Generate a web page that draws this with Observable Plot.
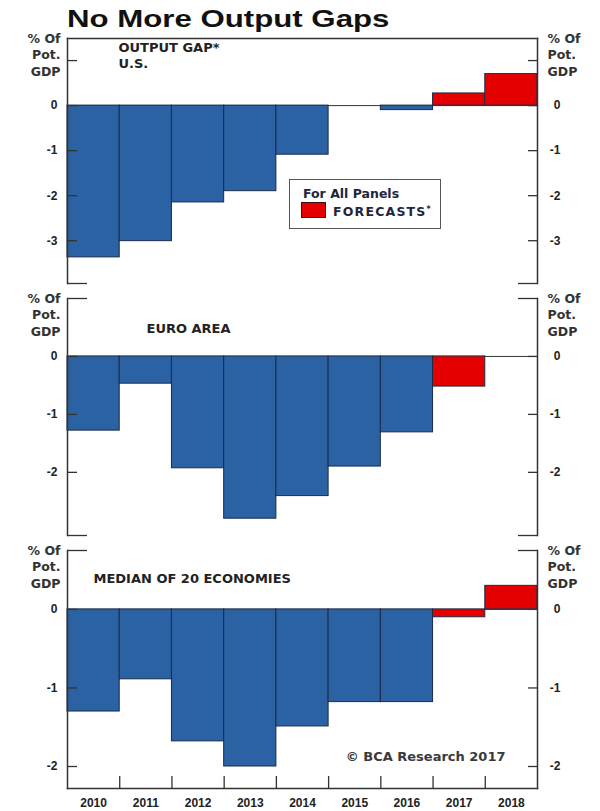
<!DOCTYPE html>
<html>
<head>
<meta charset="utf-8">
<script src="https://cdn.jsdelivr.net/npm/d3@7"></script>
<script src="https://cdn.jsdelivr.net/npm/@observablehq/plot@0.6"></script>
<style>
html, body { margin: 0; padding: 0; background: #fff; }
#chart { position: relative; width: 600px; height: 811px; overflow: hidden; background: #fff; }
#title { position: absolute; left: 67px; top: 7px; font: bold 24px/24px "Liberation Sans", Arial, sans-serif; color: #111; transform: scaleX(1.3); transform-origin: 0 0; white-space: nowrap; z-index: 3; }
.panel { position: absolute; left: 0; }
#legend { position: absolute; left: 289px; top: 179px; width: 152px; height: 50px; box-sizing: border-box; border: 1px solid #555; background: #fff; z-index: 3; font: bold 12.5px/15px "DejaVu Sans", sans-serif; color: #1e2540; }
#legend .hdr { position: absolute; left: 13px; top: 6px; white-space: nowrap; }
#legend .sw { position: absolute; left: 11px; top: 22px; width: 25px; height: 16px; box-sizing: border-box; background: #e50000; border: 1px solid #3a1010; }
#legend .lbl { position: absolute; left: 43px; top: 22px; white-space: nowrap; letter-spacing: 1.2px; }
#legend .lbl span { font-size: 8px; vertical-align: 4px; letter-spacing: 0; }
</style>
</head>
<body>
<div id="chart">
  <div id="title"></div>
  <div id="legend"><div class="hdr"></div><div class="sw"></div><div class="lbl"></div></div>
</div>
<script>
// ---- data ----
const titleText = "No More Output Gaps";
const years = ["2010", "2011", "2012", "2013", "2014", "2015", "2016", "2017", "2018"];
const forecastYears = ["2017", "2018"];
const usValues = [-3.37, -3.01, -2.15, -1.9, -1.09, 0, -0.1, 0.27, 0.7];
const euroValues = [-1.28, -0.47, -1.93, -2.8, -2.41, -1.9, -1.31, -0.52, 0];
const medianValues = [-1.3, -0.89, -1.68, -2.0, -1.49, -1.18, -1.18, -0.1, 0.3];
const usTicks = [0, -1, -2, -3];
const euroTicks = [0, -1, -2];
const medianTicks = [0, -1, -2];
const panelLabels = ["OUTPUT GAP*\nU.S.", "EURO AREA", "MEDIAN OF 20 ECONOMIES"];
const unitLabel = "% Of\nPot.\nGDP";
const legendHeader = "For All Panels";
const legendLabel = "FORECASTS";
const copyrightText = "© BCA Research 2017";

// ---- styling ----
const BLUE = "#2b62a3", RED = "#e50000", OUTLINE = "#1c2b47", INK = "#333";
const M_LEFT = 67, M_RIGHT = 63, W = 600;
const bandW = (W - M_LEFT - M_RIGHT) / years.length;

document.getElementById("title").textContent = titleText;
document.querySelector("#legend .hdr").textContent = legendHeader;
document.querySelector("#legend .lbl").innerHTML = legendLabel + "<span>*</span>";

function makePanel(cfg) {
  const rows = years.map((year, i) => ({year, value: cfg.values[i], forecast: forecastYears.includes(year)}));
  const tickStyle = {stroke: INK, strokeWidth: 1.3, fill: "none", label: null};
  const labelStyle = {tickSize: 0, tickFormat: d => String(d), fill: "#222", fontSize: 12, fontWeight: "bold", label: null};
  const unitStyle = {lineAnchor: "top", lineHeight: 1.3, dy: -7, fontFamily: "DejaVu Sans", fontWeight: "bold", fontSize: 12.5, fill: "#333"};
  const marks = [
    Plot.ruleY([0], {stroke: INK, strokeWidth: 1}),
    Plot.barY(rows.filter(d => !d.forecast), {x: "year", y: "value", fill: BLUE, stroke: OUTLINE, strokeWidth: 1}),
    Plot.barY(rows.filter(d => d.forecast), {x: "year", y: "value", fill: RED, stroke: OUTLINE, strokeWidth: 1}),
    Plot.frame({anchor: "left", stroke: INK, strokeWidth: 1.5}),
    Plot.frame({anchor: "right", stroke: INK, strokeWidth: 1.5}),
    Plot.axisY(cfg.ticks, {anchor: "left", tickSize: -10, ...tickStyle}),
    Plot.axisY(cfg.ticks, {anchor: "right", tickSize: -10, ...tickStyle}),
    Plot.axisY(cfg.ticks, {anchor: "left", tickPadding: 10, ...labelStyle}),
    Plot.axisY(cfg.ticks, {anchor: "right", tickPadding: 23, textAnchor: "end", ...labelStyle}),
    Plot.text([unitLabel], {frameAnchor: "top-left", textAnchor: "end", dx: -7, ...unitStyle}),
    Plot.text([unitLabel], {frameAnchor: "top-right", textAnchor: "start", dx: 10, ...unitStyle}),
    Plot.text([cfg.label], {frameAnchor: "top-left", textAnchor: "start", dx: cfg.labelDx, dy: cfg.labelDy,
      lineAnchor: "top", lineHeight: 1.2, fontFamily: "DejaVu Sans", fontWeight: "bold", fontSize: 13, fill: "#222"})
  ];
  if (cfg.minorTicks) {
    marks.push(Plot.axisY(cfg.minorTicks, {anchor: "left", tickSize: -10, ...tickStyle}));
    marks.push(Plot.axisY(cfg.minorTicks, {anchor: "right", tickSize: -10, ...tickStyle}));
  }
  if (cfg.stubs) {
    marks.push(Plot.axisY(cfg.stubs, {anchor: "left", tickSize: -20, ...tickStyle}));
    marks.push(Plot.axisY(cfg.stubs, {anchor: "right", tickSize: -20, ...tickStyle}));
  }
  if (cfg.frameTop) marks.push(Plot.frame({anchor: "top", stroke: INK, strokeWidth: 1.5}));
  if (cfg.frameBottom) marks.push(Plot.frame({anchor: "bottom", stroke: INK, strokeWidth: 1.5}));
  if (cfg.yearAxis) {
    marks.push(Plot.axisX(years, {anchor: "bottom", tickSize: 0, tickPadding: 10, fontSize: 12, fontWeight: "bold", fill: "#222", label: null}));
    marks.push(Plot.axisX(years.slice(0, -1), {anchor: "bottom", tickSize: -12, dx: bandW / 2, ...tickStyle}));
  }
  if (cfg.note) {
    marks.push(Plot.text([cfg.note], {frameAnchor: "bottom-right", textAnchor: "end", lineAnchor: "middle", dx: -32, dy: -32,
      fontFamily: "DejaVu Sans", fontWeight: "bold", fontSize: 13, fill: "#3a3a3a"}));
  }
  const xScale = {type: "band", domain: years, padding: 0, round: false, label: null};
  if (!cfg.yearAxis) xScale.axis = null;
  const svg = Plot.plot({
    width: W,
    height: cfg.marginTop + cfg.frameH + cfg.marginBottom,
    marginTop: cfg.marginTop,
    marginBottom: cfg.marginBottom,
    marginLeft: M_LEFT,
    marginRight: M_RIGHT,
    x: xScale,
    y: {domain: cfg.domain, label: null},
    style: "background: transparent; overflow: visible; font-family: 'Liberation Sans', Arial, sans-serif;",
    marks
  });
  svg.classList.add("panel");
  svg.style.position = "absolute";
  svg.style.left = "0px";
  svg.style.top = cfg.top + "px";
  document.getElementById("chart").appendChild(svg);
}

makePanel({values: usValues, ticks: usTicks, domain: [-3.95, 1.49], top: 28, marginTop: 10, frameH: 245, marginBottom: 5,
  label: panelLabels[0], labelDx: 51, labelDy: 2.6, minorTicks: [1], stubs: [-3.95], frameTop: true});
makePanel({values: euroValues, ticks: euroTicks, domain: [-3.09, 1.0], top: 290, marginTop: 8, frameH: 237, marginBottom: 6,
  label: panelLabels[1], labelDx: 79, labelDy: 23, stubs: [1.0, -3.09]});
makePanel({values: medianValues, ticks: medianTicks, domain: [-2.28, 0.75], top: 542, marginTop: 8, frameH: 238, marginBottom: 23,
  label: panelLabels[2], labelDx: 26, labelDy: 21, stubs: [0.75], frameBottom: true, yearAxis: true, note: copyrightText});
</script>
</body>
</html>
